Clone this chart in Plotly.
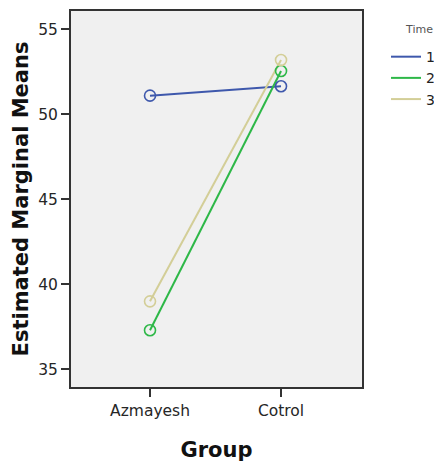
import plotly.graph_objects as go

groups = ["Azmayesh", "Cotrol"]
times = ["1", "2", "3"]
means_time1 = [51.1, 51.65]
means_time2 = [37.3, 52.55]
means_time3 = [39.0, 53.2]
colors = ["#3E58AC", "#2EB848", "#D3CE97"]
y_ticks = [35, 40, 45, 50, 55]

series = [means_time1, means_time2, means_time3]
xpos = list(range(len(groups)))

fig = go.Figure()
for name, vals, col in zip(times, series, colors):
    fig.add_trace(go.Scatter(
        x=xpos, y=vals, mode="lines", name=name,
        line=dict(color=col, width=2), showlegend=True))
for name, vals, col in zip(times, series, colors):
    fig.add_trace(go.Scatter(
        x=xpos, y=vals, mode="markers", name=name, showlegend=False,
        marker=dict(symbol="circle-open", size=11, color=col,
                    line=dict(color=col, width=1.6))))

axis_col = "#333333"
tick_font = dict(family="DejaVu Sans", size=15.5, color="#262626")
title_font = dict(family="DejaVu Sans", size=21, color="#111111")

fig.update_layout(
    width=434, height=457,
    margin=dict(l=63, r=80, t=3, b=78, autoexpand=False),
    paper_bgcolor="white",
    plot_bgcolor="#F0F0F0",
    font=dict(family="DejaVu Sans", color="#222222"),
    legend=dict(
        x=1.0825, xanchor="left", y=0.920, yanchor="top",
        font=dict(family="DejaVu Sans", size=14, color="#222222"),
        itemwidth=30, tracegroupgap=0, bgcolor="rgba(0,0,0,0)",
        borderwidth=0,
    ),
    annotations=[dict(
        text="Time", xref="paper", yref="paper", x=1.196, y=0.952,
        xanchor="center", yanchor="middle", showarrow=False,
        font=dict(family="DejaVu Sans", size=11, color="#555555"))],
    xaxis=dict(
        range=[-0.603, 1.618],
        tickvals=xpos, ticktext=groups,
        ticks="outside", ticklen=8, tickwidth=1.5, tickcolor=axis_col,
        showgrid=False, zeroline=False,
        showline=True, linecolor=axis_col, linewidth=2, mirror=True,
        tickfont=tick_font,
        title=dict(text="<b>Group</b>", font=title_font, standoff=24),
    ),
    yaxis=dict(
        range=[33.96, 56.08],
        tickvals=y_ticks,
        ticks="outside", ticklen=8, tickwidth=1.5, tickcolor=axis_col,
        showgrid=False, zeroline=False,
        showline=True, linecolor=axis_col, linewidth=2, mirror=True,
        tickfont=tick_font,
        title=dict(text="<b>Estimated Marginal Means</b>", font=title_font, standoff=4),
    ),
)

fig.write_html("out.html")
